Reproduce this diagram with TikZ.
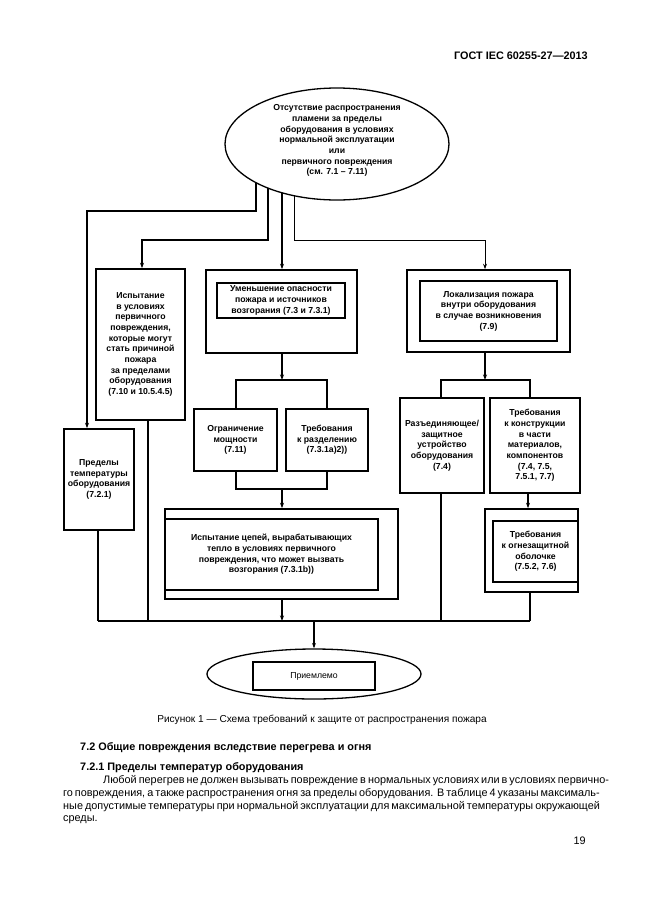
\documentclass[tikz,border=0pt]{standalone}
\usepackage{fontspec}
\setmainfont{Liberation Sans}
\usetikzlibrary{shapes.geometric,arrows.meta}
\newcommand\dgmfont{\fontsize{8}{9.8}\selectfont\bfseries}
\newcommand\bodyfont{\fontsize{10}{12}\selectfont}
\tikzset{
  box/.style={draw,rectangle,line width=1.5pt,inner sep=0pt,align=center,font=\dgmfont},
  sz/.style 2 args={minimum width=#1*0.921pt,minimum height=#2*0.921pt},
  oval/.style={draw,ellipse,line width=1.2pt,inner sep=0pt,align=center,font=\dgmfont},
  conn/.style={line width=1.1pt},
  thinconn/.style={line width=0.9pt},
  arr/.style={conn,-{Stealth[length=5pt,width=3.6pt]}},
  thinarr/.style={thinconn,-{Stealth[length=5pt,width=3.6pt]}},
  txt/.style={inner sep=0pt,font=\bodyfont}}
\begin{document}
\begin{tikzpicture}[x=0.921pt,y=-0.921pt]
\fill[white] (0,0) rectangle (646,913);
\useasboundingbox (0,0) rectangle (646,913);

% header
\node[txt,anchor=base east,font=\bodyfont\bfseries] (hdr) at (588,59) {ГОСТ IEC 60255-27—2013};

% top ellipse
\node[oval,sz={224}{112}] (el) at (337,144)
  {Отсутствие распространения\\пламени за пределы\\оборудования в условиях\\нормальной эксплуатации\\или\\первичного повреждения\\(см. 7.1 – 7.11)\\[-2pt]};

% boxes
\node[box,sz={89}{151}] (isp) at (140.5,344.5) {Испытание\\в условиях\\первичного\\повреждения,\\которые могут\\стать причиной\\пожара\\за пределами\\оборудования\\(7.10 и 10.5.4.5)};
\node[box,sz={70}{101}] (pred) at (99,479.5) {Пределы\\температуры\\оборудования\\(7.2.1)};

\node[box,sz={151}{83}] (umenO) at (281.5,311.5) {};
\node[box,sz={128}{35}] (umen) at (281,300.5) {Уменьшение опасности\\пожара и источников\\возгорания (7.3 и 7.3.1)};

\node[box,sz={163}{82}] (lokO) at (488.5,311) {};
\node[box,sz={137}{60}] (lok) at (488.5,311) {Локализация пожара\\внутри оборудования\\в случае возникновения\\(7.9)};

\node[box,sz={83}{62}] (ogr) at (235.5,440) {Ограничение\\мощности\\(7.11)};
\node[box,sz={82}{62}] (treb1) at (327,440) {Требования\\к разделению\\(7.3.1a)2))};

\node[box,sz={84}{95}] (razd) at (442,445.5) {Разъединяющее/\\защитное\\устройство\\оборудования\\(7.4)};
\node[box,sz={90}{95}] (treb2) at (535,445.5) {Требования\\к конструкции\\в части\\материалов,\\компонентов\\(7.4, 7.5,\\7.5.1, 7.7)};

\node[box,sz={233}{90}] (cepO) at (281.5,554) {};
\node[box,sz={213}{71}] (cep) at (271.5,554.5) {Испытание цепей, вырабатывающих\\тепло в условиях первичного\\повреждения, что может вызвать\\возгорания (7.3.1b))};

\node[box,sz={93}{83}] (ognO) at (531.5,550.5) {};
\node[box,sz={85}{61}] (ogn) at (535.5,551.5) {Требования\\к огнезащитной\\оболочке\\(7.5.2, 7.6)};

% bottom ellipse
\node[oval,sz={214}{50}] (pr) at (314,674) {};
\node[box,sz={122}{28},font=\fontsize{8}{9.8}\selectfont] (prin) at (314,676) {Приемлемо};

% connectors from top ellipse
\coordinate (e1) at (256,182.7);
\coordinate (e2) at (268,188.1);
\coordinate (e3) at (282,192.8);
\coordinate (e4) at (294,195.7);
\coordinate (j1) at (87,211);
\coordinate (j2) at (142,240);
\coordinate (j4) at (485,240);
\draw[arr] (e1) |- (j1) -- (j1 |- pred.north);
\draw[arr] (e2) |- (j2) -- (j2 |- isp.north);
\draw[arr] (e3) -- (e3 |- umenO.north);
\draw[thinarr] (e4) |- (j4) -- (j4 |- lokO.north);

% splits
\coordinate (s1) at (282,380);
\coordinate (s1l) at (236,380);
\coordinate (s1r) at (327,380);
\draw[arr] (s1 |- umenO.south) -- (s1);
\draw[conn] (s1l |- ogr.north) -- (s1l) -- (s1r) -- (s1r |- treb1.north);

\coordinate (s2) at (485,380);
\coordinate (s2l) at (441,380);
\coordinate (s2r) at (530,380);
\draw[arr] (s2 |- lokO.south) -- (s2);
\draw[conn] (s2l |- razd.north) -- (s2l) -- (s2r) -- (s2r |- treb2.north);

% merge
\coordinate (m) at (282,489);
\coordinate (ml) at (236,489);
\coordinate (mr) at (327,489);
\draw[conn] (ml |- ogr.south) -- (ml) -- (mr) -- (mr |- treb1.south);
\draw[arr] (m) -- (m |- cepO.north);

\coordinate (t2) at (528,500);
\draw[arr] (t2 |- treb2.south) -- (t2 |- ognO.north);

% bottom collector
\coordinate (bl) at (98,621);
\coordinate (b2) at (148,621);
\coordinate (b3) at (282,621);
\coordinate (b4) at (441,621);
\coordinate (b5) at (314,621);
\coordinate (br) at (530,621);
\draw[conn] (bl) -- (br);
\draw[conn] (bl |- pred.south) -- (bl);
\draw[conn] (b2 |- isp.south) -- (b2);
\draw[arr] (b3 |- cepO.south) -- (b3);
\draw[conn] (b4 |- razd.south) -- (b4);
\draw[conn] (br |- ognO.south) -- (br);
\draw[arr] (b5) -- (pr.north);

% caption and text
\node[txt,anchor=base,font=\fontsize{9.3}{11}\selectfont] (cap) at (322,722) {Рисунок 1 — Схема требований к защите от распространения пожара};
\node[txt,anchor=base west,font=\bodyfont\bfseries] (h1) at (80,750) {7.2 Общие повреждения вследствие перегрева и огня};
\node[txt,anchor=base west,font=\bodyfont\bfseries] (h2) at (80,770) {7.2.1 Пределы температур оборудования};
\node[txt,anchor=base west] (p1) at (103,783) {\makebox[446.7pt][s]{Любой перегрев не должен вызывать повреждение в нормальных условиях или в условиях первично-}};
\node[txt,anchor=base west] (p2) at (63,796) {\makebox[483.5pt][s]{го повреждения, а также распространения огня за пределы оборудования. В таблице 4 указаны максималь-}};
\node[txt,anchor=base west] (p3) at (63,809) {\makebox[483.5pt][s]{ные допустимые температуры при нормальной эксплуатации для максимальной температуры окружающей}};
\node[txt,anchor=base west] (p4) at (63,821) {среды.};
\node[txt,anchor=base east] (pg) at (586,844) {19};
\end{tikzpicture}
\end{document}
